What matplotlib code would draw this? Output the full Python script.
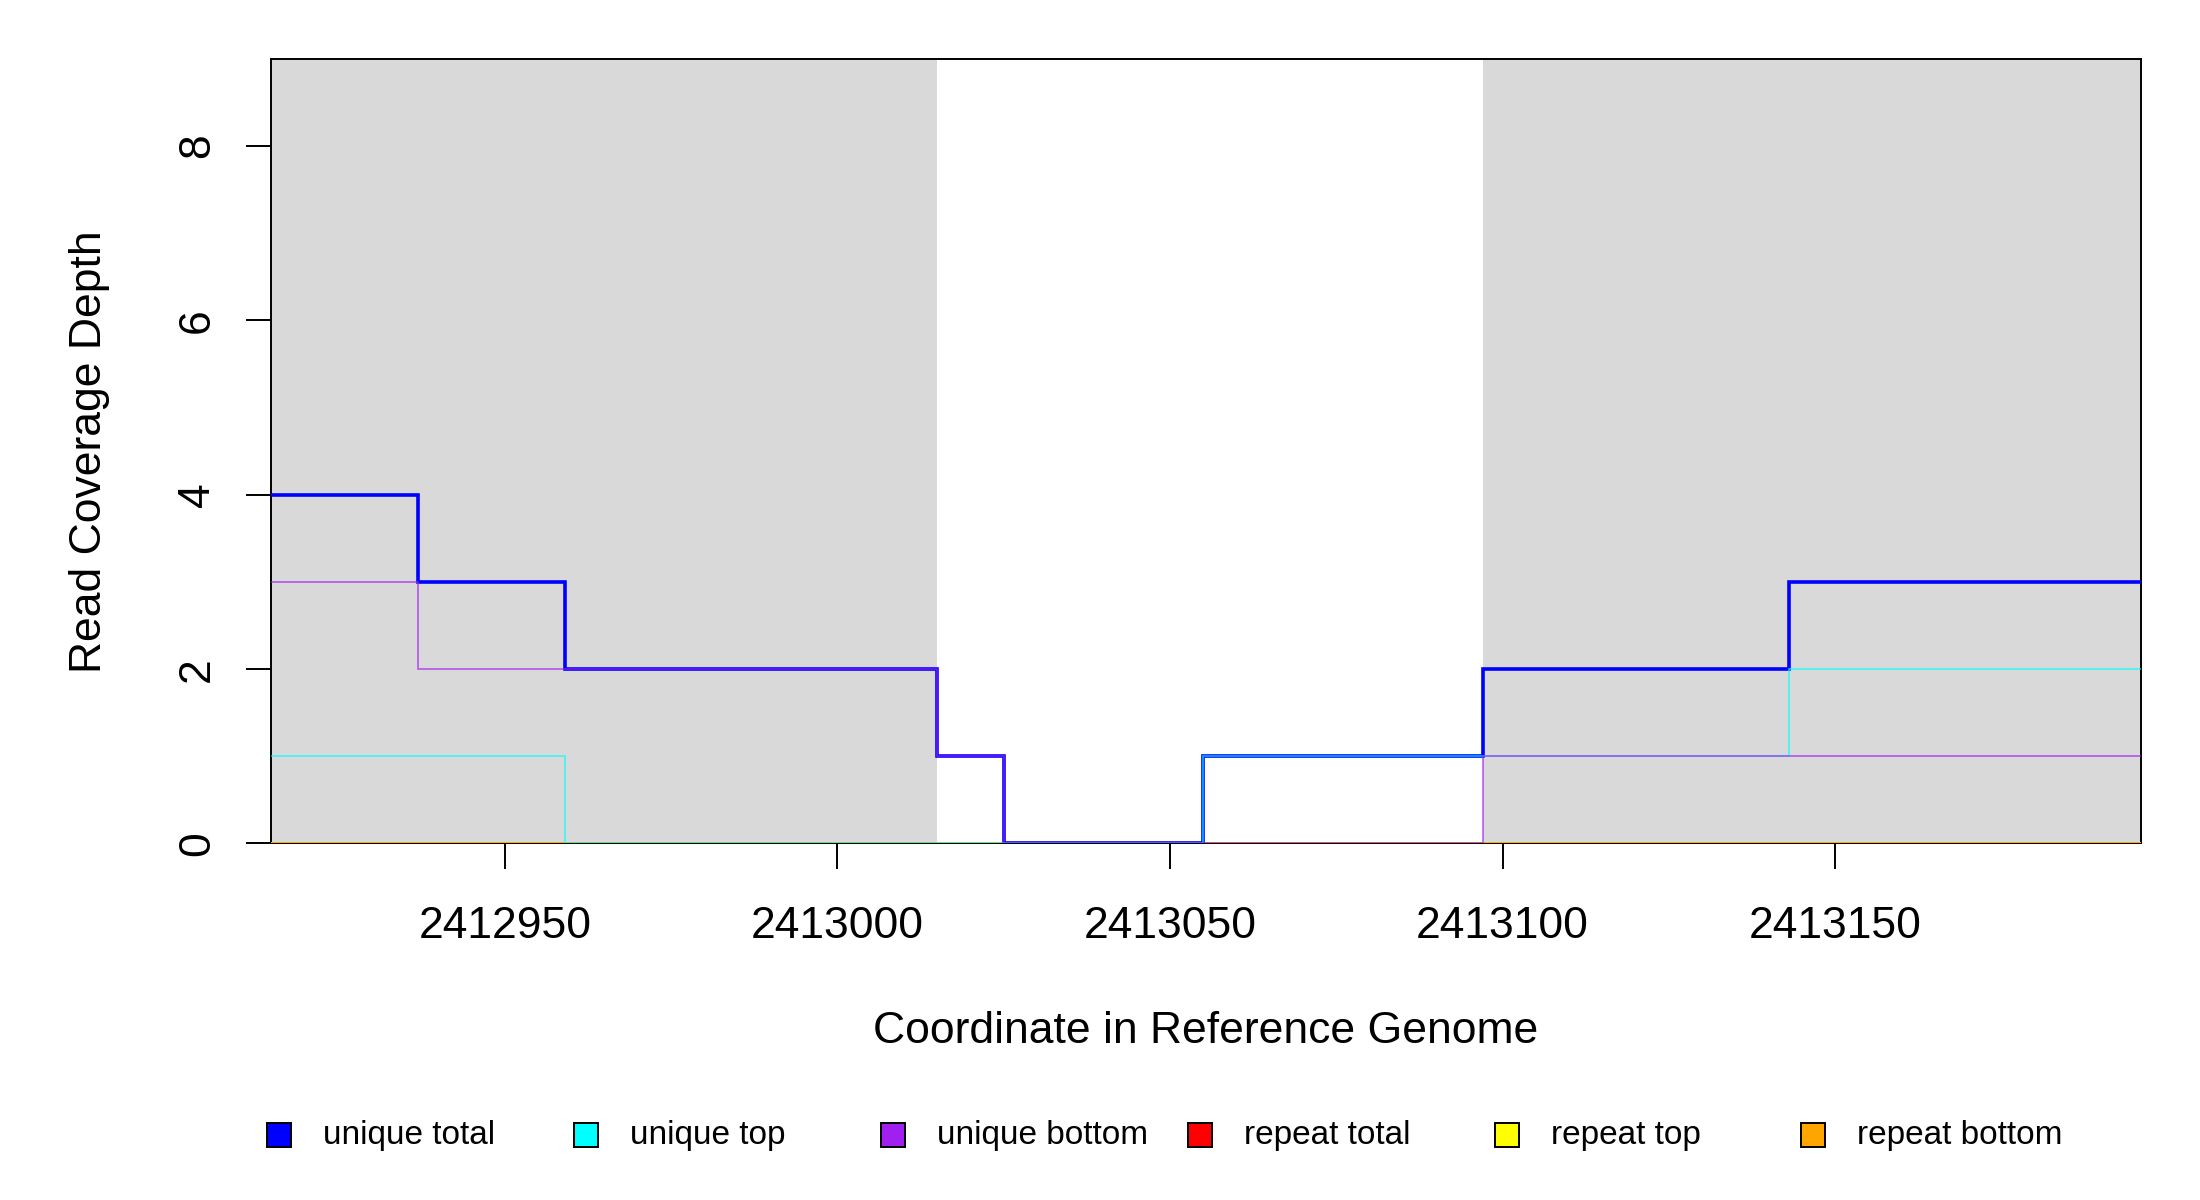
import matplotlib
matplotlib.use("Agg")
import matplotlib.pyplot as plt
from matplotlib.patches import Rectangle

# step boundaries along the genome and the depth in each interval
edges = [2412915, 2412937, 2412959, 2413015, 2413025,
         2413055, 2413097, 2413143, 2413196]
unique_total = [4, 3, 2, 1, 0, 1, 2, 3]
unique_top = [1, 1, 0, 0, 0, 1, 1, 2]
unique_bottom = [3, 2, 2, 1, 0, 0, 1, 1]
repeat_total = [0, 0, 0, 0, 0, 0, 0, 0]
repeat_top = [0, 0, 0, 0, 0, 0, 0, 0]
repeat_bottom = [0, 0, 0, 0, 0, 0, 0, 0]

# shaded (gray) regions: start, end
shade_start = [2412915, 2413097]
shade_end = [2413015, 2413196]

xticks = [2412950, 2413000, 2413050, 2413100, 2413150]
yticks = [0, 2, 4, 6, 8]

legend_labels = ["unique total", "unique top", "unique bottom",
                 "repeat total", "repeat top", "repeat bottom"]
legend_colors = ["#0000ff", "#00ffff", "#a020f0",
                 "#ff0000", "#ffff00", "#ffa500"]


def stepline(ax, vals, color, lw, alpha=1.0):
    ax.step(edges, vals + [vals[-1]], where="post", color=color,
            lw=lw, alpha=alpha, solid_joinstyle="miter", zorder=3)


def main():
    plt.rcParams["font.family"] = ["Liberation Sans", "DejaVu Sans"]
    fig = plt.figure(figsize=(11, 6), dpi=200)
    ax = fig.add_axes([0.1231, 0.2971, 0.8501, 0.6538])

    for s, e in zip(shade_start, shade_end):
        ax.axvspan(s, e, color="#d9d9d9", lw=0, zorder=0)

    stepline(ax, repeat_total, "#ff0000", 1.0)
    stepline(ax, repeat_top, "#ffff00", 1.0)
    stepline(ax, repeat_bottom, "#ffa500", 1.0)
    stepline(ax, unique_total, "#0000ff", 1.3)
    stepline(ax, unique_top, "#00ffff", 0.6, alpha=0.7)
    stepline(ax, unique_bottom, "#a020f0", 0.6, alpha=0.7)

    ax.set_xlim(edges[0] - 0.2, edges[-1])
    ax.set_ylim(0, 9)
    ax.set_xticks(xticks)
    ax.set_xticklabels([str(t) for t in xticks])
    ax.set_yticks(yticks)
    ax.set_yticklabels([str(t) for t in yticks], rotation=90, va="center")
    ax.tick_params(axis="x", length=9.4, width=0.7, pad=13, labelsize=16)
    ax.tick_params(axis="y", length=9, width=0.7, pad=10, labelsize=16)
    for sp in ax.spines.values():
        sp.set_linewidth(0.7)
        sp.set_zorder(1.5)

    ax.set_xlabel("Coordinate in Reference Genome", fontsize=16, va="center")
    ax.xaxis.set_label_coords(0.5, -0.240)
    ax.set_ylabel("Read Coverage Depth", fontsize=16, va="center")
    ax.yaxis.set_label_coords(-0.097, 0.5)

    # R style legend row at the bottom, evenly spaced
    x0, dx, ly = 0.1268, 0.1395, 0.054
    w, h = 24 / 2200, 24 / 1200
    for i, (lab, col) in enumerate(zip(legend_labels, legend_colors)):
        cx = x0 + i * dx
        fig.patches.append(Rectangle((cx - w / 2, ly - h / 2), w, h,
                                     facecolor=col, edgecolor="black",
                                     lw=0.7, transform=fig.transFigure))
        fig.text(cx + 44 / 2200, ly, lab, fontsize=12, va="center",
                 ha="left")

    fig.savefig("out.png", dpi=200)


if __name__ == "__main__":
    main()
